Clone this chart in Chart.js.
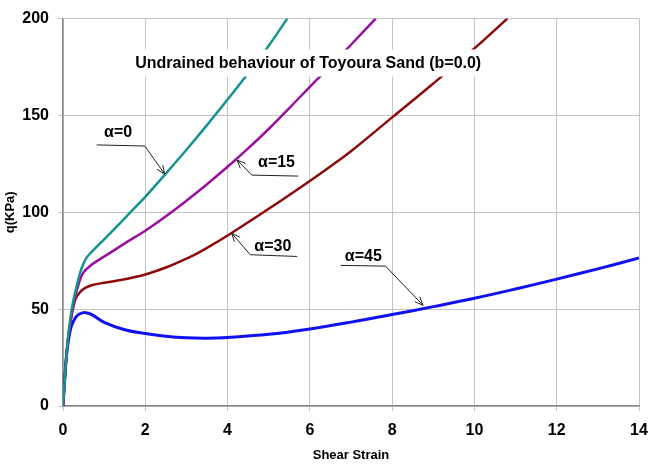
<!DOCTYPE html>
<html>
<head>
<meta charset="utf-8">
<script src="https://cdn.jsdelivr.net/npm/chart.js@4.4.1/dist/chart.umd.min.js"></script>
<style>
  html, body { margin: 0; padding: 0; background: #fff; }
  #wrap { width: 664px; height: 468px; }
</style>
</head>
<body>
<div id="wrap"><canvas id="chart" width="664" height="468"></canvas></div>
<script>
// Shear strain (x) and deviator stress q (y) for each principal stress direction alpha
const strainA0 = [0, 0.04, 0.08, 0.12, 0.17, 0.23, 0.3, 0.38, 0.45, 0.57, 0.74, 1.0, 1.3, 1.63, 2, 2.5, 3, 3.5, 4, 4.5, 5, 5.45];
const qA0 = [0, 13, 25, 35, 44, 52, 59, 66, 71, 76.5, 80.5, 86, 92.5, 99.8, 108, 120, 132.3, 145, 158.2, 171.8, 186, 200];

const strainA15 = [0, 0.04, 0.08, 0.12, 0.17, 0.23, 0.3, 0.38, 0.5, 0.7, 0.9, 1.2, 1.55, 2, 2.6, 3, 3.5, 4, 4.5, 5, 5.5, 6, 6.5, 7, 7.6];
const qA15 = [0, 13, 25, 34, 42, 50, 57, 63, 69, 73, 75.8, 79.8, 84.6, 90.5, 99.5, 106, 114.5, 123.5, 133, 143, 153.8, 164.8, 175.5, 186.5, 200];

const strainA30 = [0, 0.04, 0.08, 0.12, 0.17, 0.23, 0.3, 0.4, 0.54, 0.74, 1, 1.5, 2, 2.5, 3.17, 3.5, 4.06, 5, 6, 6.54, 7, 8, 9, 10, 10.8];
const qA30 = [0, 13, 25, 34, 42, 49, 55, 58.5, 61, 62.6, 63.6, 65.4, 67.9, 71.5, 77.8, 81.6, 88.8, 101.8, 116.2, 124.3, 131.5, 149, 166.5, 184.6, 200];

const strainA45 = [0, 0.04, 0.08, 0.13, 0.2, 0.3, 0.4, 0.55, 0.7, 1, 1.5, 2, 2.5, 3, 3.5, 4, 5, 6, 7, 8, 9, 10, 11, 12, 13, 14];
const qA45 = [0, 13, 25, 33.7, 41, 45.5, 47.5, 48.2, 47.2, 43.2, 39.4, 37.4, 36, 35.2, 35, 35.4, 37, 39.8, 43.3, 47.2, 51.3, 55.6, 60.4, 65.5, 70.8, 76.4];

const seriesNames = ['α=0', 'α=15', 'α=30', 'α=45'];
const titleText = 'Undrained behaviour of Toyoura Sand (b=0.0)';

function toPoints(xs, ys) {
    return xs.map((x, i) => ({ x: x, y: ys[i] }));
}

const colors = ['#16928f', '#9a109e', '#8e0a0a', '#1010f0'];

// label text position, leader line (start, end) and arrow tip, all in data units
const callouts = [
    { text: seriesNames[0], at: [1.34, 141], line: [[0.82, 134.8], [1.99, 134.2]], tip: [2.47, 119.8], from: 1 },
    { text: seriesNames[1], at: [5.19, 125.5], line: [[4.59, 119.2], [5.72, 118.7]], tip: [4.23, 127], from: 0 },
    { text: seriesNames[2], at: [5.1, 82.5], line: [[4.55, 78.1], [5.69, 77.2]], tip: [4.1, 89.2], from: 0 },
    { text: seriesNames[3], at: [7.3, 77], line: [[6.75, 72.6], [7.84, 72.2]], tip: [8.75, 52], from: 1 }
];

const annotatePlugin = {
    id: 'annotate',
    afterDatasetsDraw(chart) {
        const ctx = chart.ctx;
        const xs = chart.scales.x, ys = chart.scales.y;
        const px = v => xs.getPixelForValue(v);
        const py = v => ys.getPixelForValue(v);
        ctx.save();

        // title box
        ctx.font = 'bold 16px "Liberation Sans", Arial, sans-serif';
        const tw = ctx.measureText(titleText).width;
        const cx = px(5.96), cy = py(176.8);
        ctx.fillStyle = '#fff';
        ctx.fillRect(cx - tw / 2 - 4, cy - 14, tw + 8, 27);
        ctx.fillStyle = '#000';
        ctx.textAlign = 'center';
        ctx.textBaseline = 'middle';
        ctx.fillText(titleText, cx, cy);

        // callouts
        callouts.forEach(c => {
            ctx.font = 'bold 16px "Liberation Sans", Arial, sans-serif';
            ctx.fillStyle = '#000';
            ctx.fillText(c.text, px(c.at[0]), py(c.at[1]));
            const a = [px(c.line[0][0]), py(c.line[0][1])];
            const b = [px(c.line[1][0]), py(c.line[1][1])];
            const s = c.from === 1 ? b : a;
            const t = [px(c.tip[0]), py(c.tip[1])];
            ctx.strokeStyle = '#222';
            ctx.lineWidth = 1;
            ctx.beginPath();
            ctx.moveTo(a[0], a[1]);
            ctx.lineTo(b[0], b[1]);
            ctx.moveTo(s[0], s[1]);
            ctx.lineTo(t[0], t[1]);
            ctx.stroke();
            // open arrow head
            const ang = Math.atan2(t[1] - s[1], t[0] - s[0]);
            const L = 9, w = 0.4;
            ctx.beginPath();
            ctx.moveTo(t[0] - L * Math.cos(ang - w), t[1] - L * Math.sin(ang - w));
            ctx.lineTo(t[0], t[1]);
            ctx.lineTo(t[0] - L * Math.cos(ang + w), t[1] - L * Math.sin(ang + w));
            ctx.stroke();
        });
        ctx.restore();
    }
};

const sets = [
    toPoints(strainA0, qA0),
    toPoints(strainA15, qA15),
    toPoints(strainA30, qA30),
    toPoints(strainA45, qA45)
];

new Chart(document.getElementById('chart'), {
    type: 'scatter',
    data: {
        datasets: sets.map((d, i) => ({
            label: seriesNames[i],
            data: d,
            showLine: true,
            borderColor: colors[i],
            borderWidth: i === 3 ? 3 : 2.5,
            pointRadius: 0,
            tension: 0.4,
            clip: 0
        }))
    },
    options: {
        responsive: false,
        animation: false,
        layout: { padding: { left: 0, right: 25, top: 16, bottom: 0 } },
        plugins: {
            legend: { display: false },
            tooltip: { enabled: false }
        },
        scales: {
            x: {
                type: 'linear',
                min: 0,
                max: 14,
                ticks: {
                    stepSize: 2,
                    color: '#000',
                    padding: 10,
                    font: { family: '"Liberation Sans", Arial, sans-serif', size: 16, weight: 'bold' }
                },
                grid: { color: '#c4c4c4', lineWidth: 1, tickLength: 5 },
                border: { color: '#8a8a8a', width: 1.5 },
                title: {
                    display: true,
                    text: 'Shear Strain',
                    color: '#000',
                    padding: { top: 2, bottom: 5 },
                    font: { family: '"Liberation Sans", Arial, sans-serif', size: 13, weight: 'bold' }
                },
                afterFit: s => { s.height = 62; }
            },
            y: {
                type: 'linear',
                min: 0,
                max: 200,
                ticks: {
                    stepSize: 50,
                    color: '#000',
                    padding: 9,
                    font: { family: '"Liberation Sans", Arial, sans-serif', size: 16, weight: 'bold' }
                },
                grid: { color: '#c4c4c4', lineWidth: 1, tickLength: 5 },
                border: { color: '#8a8a8a', width: 1.5 },
                title: {
                    display: true,
                    text: 'q(KPa)',
                    color: '#000',
                    padding: { top: 3, bottom: 0 },
                    font: { family: '"Liberation Sans", Arial, sans-serif', size: 13, weight: 'bold' }
                },
                afterFit: s => { s.width = 63; }
            }
        }
    },
    plugins: [annotatePlugin]
});
</script>
</body>
</html>
